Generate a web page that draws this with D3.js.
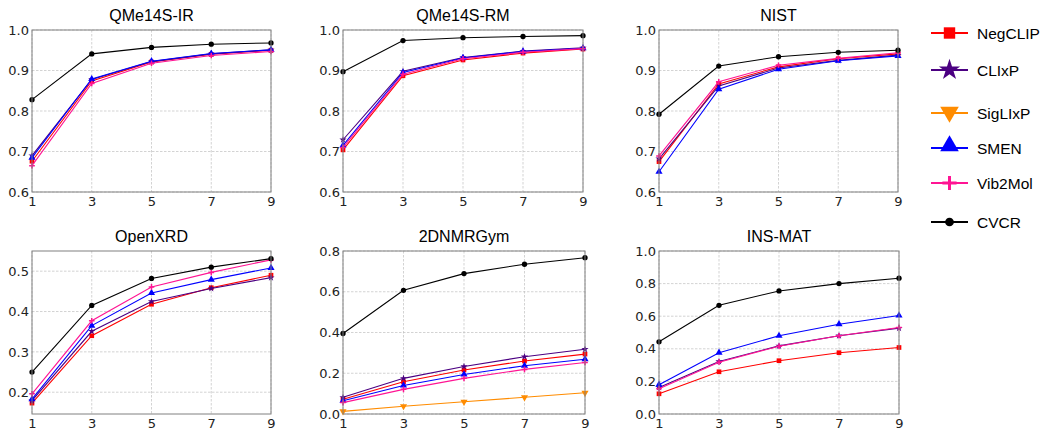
<!DOCTYPE html>
<html>
<head>
<meta charset="utf-8">
<script src="https://cdn.jsdelivr.net/npm/d3@7"></script>
<style>
  body { margin: 0; background: #fff; }
  svg { display: block; }
</style>
</head>
<body>
<svg id="chart" width="1041" height="428"></svg>
<script>
// k values on the x axis
const kValues = [1, 3, 5, 7, 9];

const datasets = ['QMe14S-IR', 'QMe14S-RM', 'NIST', 'OpenXRD', '2DNMRGym', 'INS-MAT'];
const yDomains = [[0.6, 1.0], [0.6, 1.0], [0.6, 1.0], [0.146, 0.55], [0, 0.8], [0, 1.0]];
const yTicks = [
  [0.6, 0.7, 0.8, 0.9, 1.0],
  [0.6, 0.7, 0.8, 0.9, 1.0],
  [0.6, 0.7, 0.8, 0.9, 1.0],
  [0.2, 0.3, 0.4, 0.5],
  [0.0, 0.2, 0.4, 0.6, 0.8],
  [0.0, 0.2, 0.4, 0.6, 0.8, 1.0]
];

const methods = ['NegCLIP', 'CLIxP', 'SigLIxP', 'SMEN', 'Vib2Mol', 'CVCR'];
const colors = ['#ff0000', '#4b0082', '#ff8c00', '#0000ff', '#ff1493', '#000000'];

// one row per dataset, in the order of `datasets`
const negCLIP = [
  [0.676, 0.874, 0.921, 0.940, 0.950],
  [0.704, 0.887, 0.926, 0.943, 0.953],
  [0.675, 0.867, 0.909, 0.929, 0.941],
  [0.173, 0.340, 0.418, 0.459, 0.490],
  [0.072, 0.158, 0.216, 0.260, 0.294],
  [0.124, 0.259, 0.327, 0.376, 0.408]
];
const clixp = [
  [0.690, 0.878, 0.922, 0.941, 0.951],
  [0.729, 0.898, 0.932, 0.948, 0.956],
  [0.682, 0.862, 0.906, 0.925, 0.938],
  [0.179, 0.351, 0.425, 0.457, 0.484],
  [0.082, 0.175, 0.233, 0.281, 0.318],
  [0.163, 0.322, 0.418, 0.480, 0.527]
];
const siglixp = [
  null,
  null,
  null,
  null,
  [0.013, 0.038, 0.060, 0.082, 0.104],
  null
];
const smen = [
  [0.685, 0.879, 0.923, 0.942, 0.951],
  [0.715, 0.895, 0.931, 0.947, 0.955],
  [0.650, 0.854, 0.903, 0.924, 0.936],
  [0.183, 0.365, 0.446, 0.479, 0.508],
  [0.065, 0.140, 0.194, 0.237, 0.269],
  [0.180, 0.376, 0.480, 0.551, 0.604]
];
const vib2mol = [
  [0.665, 0.868, 0.918, 0.937, 0.947],
  [0.710, 0.891, 0.929, 0.945, 0.954],
  [0.689, 0.872, 0.913, 0.930, 0.944],
  [0.196, 0.377, 0.461, 0.497, 0.528],
  [0.056, 0.121, 0.175, 0.219, 0.253],
  [0.155, 0.318, 0.416, 0.480, 0.531]
];
const cvcr = [
  [0.828, 0.941, 0.957, 0.965, 0.968],
  [0.897, 0.974, 0.981, 0.984, 0.986],
  [0.792, 0.911, 0.934, 0.945, 0.950],
  [0.250, 0.415, 0.482, 0.510, 0.531],
  [0.395, 0.607, 0.689, 0.735, 0.767],
  [0.443, 0.667, 0.755, 0.800, 0.833]
];
const seriesData = [negCLIP, clixp, siglixp, smen, vib2mol, cvcr];

const svg = d3.select('#chart');

// plot boxes: [left, top, right, bottom]
const boxes = [
  [32, 30, 271, 192], [343, 30, 583, 192], [659, 30, 898, 192],
  [32, 251, 271, 414], [343, 251, 585, 414], [659, 251, 899, 414]
];

function markerPath(mi, size) {
  const types = [d3.symbolSquare, d3.symbolStar, d3.symbolTriangle, d3.symbolTriangle, null, d3.symbolCircle];
  return d3.symbol().type(types[mi]).size(size)();
}

function drawMarker(g, mi, x, y, size, color) {
  if (mi === 4) {
    const r = Math.sqrt(size) * 0.6;
    g.append('path')
      .attr('d', `M${x - r},${y}H${x + r}M${x},${y - r}V${y + r}`)
      .attr('stroke', color).attr('stroke-width', size > 60 ? 3 : 1.5).attr('fill', 'none');
    return;
  }
  g.append('path')
    .attr('d', markerPath(mi, size))
    .attr('transform', `translate(${x},${y})` + (mi === 2 ? ' rotate(180)' : ''))
    .attr('fill', color);
}

datasets.forEach((name, di) => {
  const [l, t, r, b] = boxes[di];
  const x = d3.scaleLinear().domain([1, 9]).range([l, r]);
  const y = d3.scaleLinear().domain(yDomains[di]).range([b, t]);
  const g = svg.append('g');

  // grid
  g.selectAll('.gx').data(kValues).enter().append('line')
    .attr('x1', d => x(d)).attr('x2', d => x(d)).attr('y1', t).attr('y2', b)
    .attr('stroke', '#c0c0c0').attr('stroke-width', 0.7).attr('stroke-dasharray', '2.5,1.5');
  g.selectAll('.gy').data(yTicks[di]).enter().append('line')
    .attr('x1', l).attr('x2', r).attr('y1', d => y(d)).attr('y2', d => y(d))
    .attr('stroke', '#c0c0c0').attr('stroke-width', 0.7).attr('stroke-dasharray', '2.5,1.5');

  // axes
  const xAxis = g.append('g').attr('transform', `translate(0,${b})`)
    .call(d3.axisBottom(x).tickValues(kValues).tickSize(0).tickPadding(5).tickFormat(d3.format('d')));
  const yAxis = g.append('g').attr('transform', `translate(${l},0)`)
    .call(d3.axisLeft(y).tickValues(yTicks[di]).tickSize(0).tickPadding(3).tickFormat(d3.format('.1f')));
  [xAxis, yAxis].forEach(a => {
    a.select('.domain').remove();
    a.selectAll('text').attr('font-family', 'DejaVu Sans, sans-serif').attr('font-size', 13).attr('fill', '#222');
  });

  // series
  methods.forEach((m, mi) => {
    const vals = seriesData[mi][di];
    if (!vals) return;
    const pts = kValues.map((k, i) => [x(k), y(vals[i])]);
    g.append('path')
      .attr('d', d3.line()(pts))
      .attr('fill', 'none').attr('stroke', colors[mi]).attr('stroke-width', 1.1);
    pts.forEach(p => drawMarker(g, mi, p[0], p[1], mi === 1 ? 16 : 22, colors[mi]));
  });

  // frame
  g.append('rect')
    .attr('x', l).attr('y', t).attr('width', r - l).attr('height', b - t)
    .attr('fill', 'none').attr('stroke', '#808080').attr('stroke-width', 1);

  g.append('text')
    .attr('x', (l + r) / 2).attr('y', t - 9)
    .attr('text-anchor', 'middle')
    .attr('font-family', 'Liberation Sans, Arial, sans-serif').attr('font-size', 16)
    .text(name);
});

// legend
const legendY = [33, 70, 113, 148, 183, 222];
const legend = svg.append('g');
methods.forEach((m, mi) => {
  const yy = legendY[mi];
  legend.append('line')
    .attr('x1', 931).attr('x2', 968).attr('y1', yy).attr('y2', yy)
    .attr('stroke', colors[mi]).attr('stroke-width', 2);
  const sizes = [130, 140, 150, 150, 140, 60];
  drawMarker(legend, mi, 949.5, yy + (mi === 2 ? -1 : mi === 3 ? -2 : 0), sizes[mi], colors[mi]);
  legend.append('text')
    .attr('x', 977).attr('y', yy + 5.5)
    .attr('font-family', 'Liberation Sans, Arial, sans-serif').attr('font-size', 15.5)
    .text(m);
});
</script>
</body>
</html>
